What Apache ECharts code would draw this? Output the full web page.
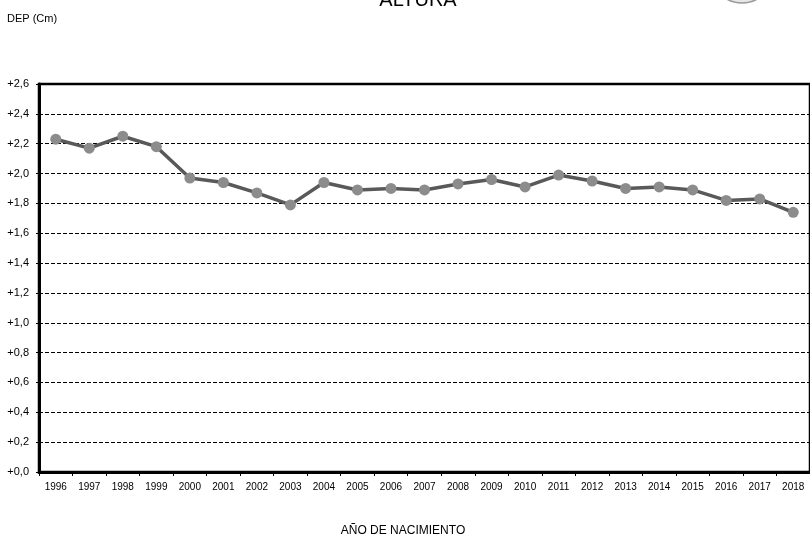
<!DOCTYPE html>
<html>
<head>
<meta charset="utf-8">
<script src="https://cdn.jsdelivr.net/npm/echarts@6/dist/echarts.min.js"></script>
<style>
html,body{margin:0;padding:0;background:#fff;}
#chart{width:810px;height:538px;}
</style>
</head>
<body>
<div id="chart"></div>
<script>
const years = ['1996','1997','1998','1999','2000','2001','2002','2003','2004','2005','2006','2007','2008','2009','2010','2011','2012','2013','2014','2015','2016','2017','2018'];
const depValues = [2.23,2.17,2.25,2.18,1.97,1.94,1.87,1.79,1.94,1.89,1.90,1.89,1.93,1.96,1.91,1.99,1.95,1.90,1.91,1.89,1.82,1.83,1.74];
const yMin = 0, yMax = 2.6, yStep = 0.2;
const titleText = 'ALTURA';
const yAxisTitle = 'DEP (Cm)';
const xAxisTitle = 'AÑO DE NACIMIENTO';

const narrow = '"Liberation Sans Narrow", "Arial Narrow", "Liberation Sans", Arial, sans-serif';
const chart = echarts.init(document.getElementById('chart'), null, {renderer: 'canvas'});
chart.setOption({
  animation: false,
  backgroundColor: '#fff',
  grid: {left: 39, top: 84, width: 773, height: 388, show: true, borderColor: '#000', borderWidth: 2.5, backgroundColor: 'transparent'},
  graphic: [
    {type: 'circle', shape: {cx: 742, cy: -28, r: 31}, style: {fill: '#e6e6e6', stroke: '#9a9a9a', lineWidth: 1.5}, z: 1},
    {type: 'text', style: {text: titleText, x: 418, y: 0, align: 'center', verticalAlign: 'middle', fontSize: 20, fontFamily: '"Liberation Sans", Arial, sans-serif', fill: '#000'}},
    {type: 'text', style: {text: yAxisTitle, x: 7, y: 19, verticalAlign: 'middle', fontSize: 11, fontFamily: narrow, fill: '#000'}},
    {type: 'text', style: {text: xAxisTitle, x: 403, y: 531, align: 'center', verticalAlign: 'middle', fontSize: 12, fontFamily: narrow, fill: '#000'}}
  ],
  xAxis: {
    type: 'category',
    data: years,
    boundaryGap: true,
    axisLine: {show: true, onZero: false, lineStyle: {color: '#000', width: 3}},
    axisTick: {show: true, alignWithLabel: false, length: 4, lineStyle: {color: '#000', width: 1}},
    axisLabel: {interval: 0, margin: 10, fontSize: 10, fontFamily: narrow, color: '#000'},
    splitLine: {show: false}
  },
  yAxis: {
    type: 'value',
    min: yMin, max: yMax, interval: yStep,
    axisLine: {show: true, lineStyle: {color: '#000', width: 3}},
    axisTick: {show: true, length: 3, lineStyle: {color: '#000', width: 1}},
    axisLabel: {margin: 10, fontSize: 11, fontFamily: narrow, color: '#000',
      formatter: v => '+' + v.toFixed(1).replace('.', ',')},
    splitLine: {show: true, lineStyle: {color: '#000', width: 1, type: [4, 2]}}
  },
  series: [{
    type: 'line',
    data: depValues,
    symbol: 'circle',
    symbolSize: 11,
    lineStyle: {color: '#595959', width: 3.5},
    itemStyle: {color: '#8c8c8c'},
    z: 5
  }]
});
</script>
</body>
</html>
